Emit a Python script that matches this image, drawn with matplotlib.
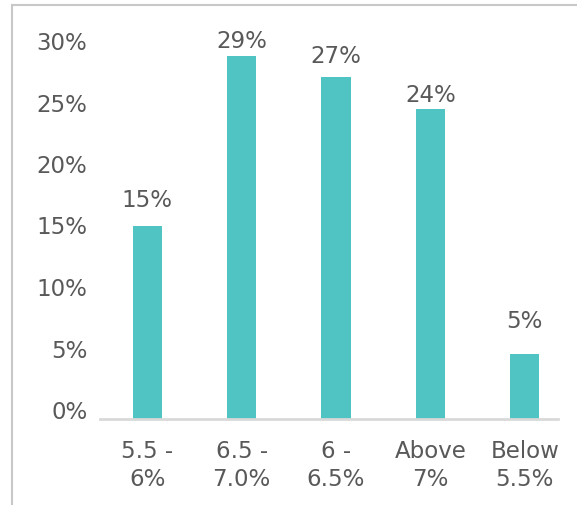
import matplotlib
matplotlib.use("Agg")
import matplotlib.pyplot as plt
from matplotlib.lines import Line2D

categories = ["5.5 -\n6%", "6.5 -\n7.0%", "6 -\n6.5%", "Above\n7%", "Below\n5.5%"]
values = [15.2, 28.6, 26.9, 24.4, 5.1]
labels = ["15%", "29%", "27%", "24%", "5%"]
yticks = [0, 5, 10, 15, 20, 25, 30]

# per-label vertical offsets (points) as placed in the original
label_offsets = [14.4, 6.5, 10.8, 5.8, 19.4]

W, H = 577, 506
fig = plt.figure(figsize=(W / 100, H / 100), dpi=100)
plt.rcParams['font.family'] = ['DejaVu Sans']
txt = "#595959"
fs = 16.5

# outer frame (top and left edges visible)
fig.add_artist(Line2D([12 / W, 12 / W], [0, 1 - 6 / H], transform=fig.transFigure, color="#c8c8c8", lw=1.5))
fig.add_artist(Line2D([12 / W, 1], [1 - 6 / H, 1 - 6 / H], transform=fig.transFigure, color="#c8c8c8", lw=1.5))

ax = fig.add_axes([100 / W, (H - 420) / H, (572 - 100) / W, (420 - 39) / H])
x = list(range(len(categories)))
ax.bar(x, values, width=0.31, color="#50c4c2", zorder=2)
for xi, v, lab, off in zip(x, values, labels, label_offsets):
    ax.annotate(lab, (xi, v), xytext=(0, off), textcoords="offset points",
                ha="center", va="baseline", fontsize=fs, color=txt)
ax.set_xlim(-0.5, 4.5)
ax.set_ylim(0, 30)
ax.set_yticks([])
ax.set_xticks(x)
ax.set_xticklabels(categories, linespacing=1.25)
ax.tick_params(axis="both", length=0, colors=txt, labelsize=fs)
ax.tick_params(axis="x", pad=14.5)
for s in ax.spines.values():
    s.set_visible(False)
ax.plot([0, (558 - 100) / (572 - 100)], [0, 0], transform=ax.transAxes, color="#d9d9d9", lw=2, clip_on=False, zorder=3)

# value axis labels (placed as in the original)
ay = fig.add_axes([100 / W, (H - 410) / H, 0.01, (410 - 41) / H])
ay.set_ylim(0, 30)
ay.set_yticks(yticks)
ay.set_yticklabels([f"{t}%" for t in yticks])
ay.tick_params(axis="y", length=0, colors=txt, labelsize=fs, pad=9)
ay.set_xticks([])
ay.patch.set_visible(False)
for s in ay.spines.values():
    s.set_visible(False)

fig.savefig("out.png", dpi=100)
